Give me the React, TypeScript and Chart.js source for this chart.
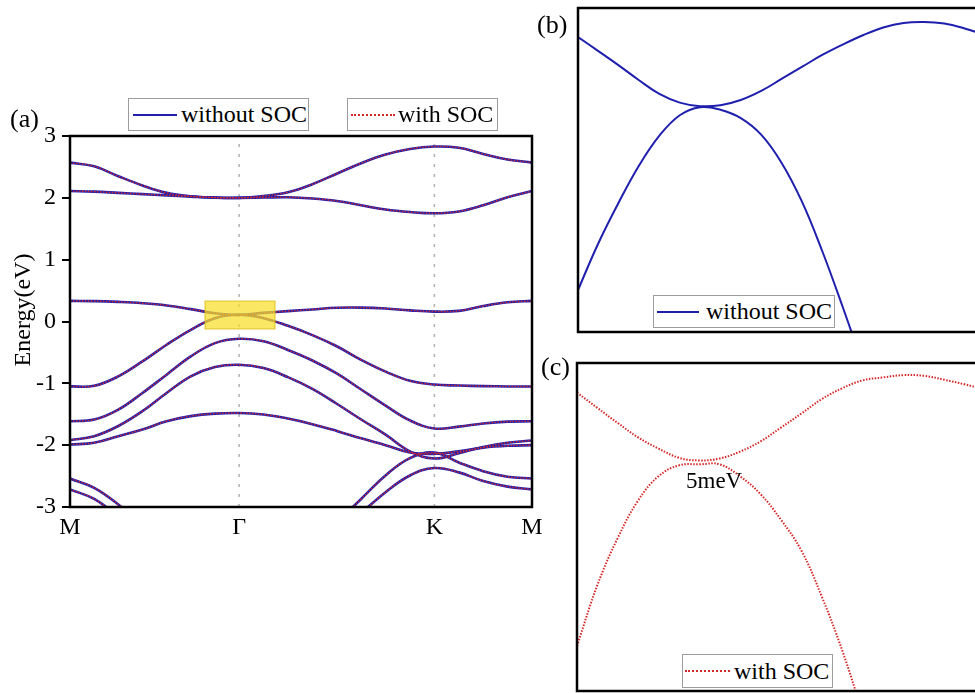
import React, { useEffect, useRef } from "react";
import { Chart, registerables } from "chart.js";

Chart.register(...registerables);

const FONT = "'Liberation Serif', 'Times New Roman', 'DejaVu Serif', serif";
const BLUE = "#1f1fae";
const RED = "#d62828";

// ---------- Panel (a): band structure along M–Γ–K–M (k in units of 2π/a) ----------
const kPath = [
  0, 0.0825, 0.165, 0.2474, 0.3299, 0.4124, 0.4949, 0.5774, 0.6607, 0.744,
  0.8274, 0.9107, 0.994, 1.0774, 1.1607, 1.244, 1.3274, 1.4107, 1.494, 1.5774,
];
const kTickValues = [0, 0.5774, 1.244, 1.5774];
const kTickLabels = ["M", "Γ", "K", "M"];
const highSymK = [0.5774, 1.244];
const energyTickLabels = ["-3", "-2", "-1", "0", "1", "2", "3"];

const band1 = [2.57, 2.51, 2.35, 2.2, 2.08, 2.025, 2.005, 2.0, 2.03, 2.09, 2.22, 2.39, 2.56, 2.7, 2.79, 2.83, 2.81, 2.71, 2.62, 2.57];
const band2 = [2.11, 2.1, 2.08, 2.06, 2.04, 2.02, 2.003, 2.0, 2.005, 2.01, 1.99, 1.95, 1.88, 1.81, 1.77, 1.75, 1.78, 1.88, 2.01, 2.11];
const band3 = [0.333, 0.33, 0.317, 0.296, 0.26, 0.2, 0.134, 0.108, 0.14, 0.168, 0.195, 0.222, 0.225, 0.21, 0.18, 0.16, 0.172, 0.25, 0.31, 0.333];
const band4 = [-1.05, -1.04, -0.887, -0.645, -0.376, -0.134, 0.054, 0.108, 0.054, -0.07, -0.22, -0.4, -0.62, -0.81, -0.96, -1.02, -1.035, -1.045, -1.05, -1.05];
const band5 = [-1.613, -1.586, -1.425, -1.156, -0.86, -0.565, -0.35, -0.28, -0.32, -0.46, -0.63, -0.84, -1.1, -1.36, -1.6, -1.73, -1.7, -1.65, -1.62, -1.613];
const band6 = [-1.92, -1.855, -1.69, -1.45, -1.156, -0.887, -0.737, -0.7, -0.753, -0.9, -1.09, -1.33, -1.585, -1.83, -2.1, -2.215, -2.13, -2.03, -1.96, -1.925];
const band7 = [-1.99, -1.96, -1.855, -1.747, -1.613, -1.53, -1.49, -1.48, -1.505, -1.57, -1.66, -1.77, -1.89, -2.0, -2.12, -2.14, -2.1, -2.04, -2.01, -2.0];
const band8 = [-2.54, -2.69, -2.96, -3.3, null, null, null, null, null, null, null, -3.25, -2.87, -2.49, -2.21, -2.12, -2.28, -2.42, -2.51, -2.54];
const band9 = [-2.715, -2.87, -3.15, null, null, null, null, null, null, null, null, null, -3.1, -2.76, -2.49, -2.37, -2.44, -2.58, -2.67, -2.715];
const bands = [band1, band2, band3, band4, band5, band6, band7, band8, band9];

const highlightK = [0.461, 0.7];
const highlightE = [-0.12, 0.33];

// ---------- Panels (b), (c): zoom near Γ (arbitrary units, 0–100) ----------
const zoomK = [0, 5, 10, 15, 20, 25, 30, 35, 40, 45, 50, 55, 60, 65, 70, 75, 80, 85, 90, 95, 100];
const bUpper = [91.05, 86.7, 82.3, 77.7, 73.5, 70.8, 69.7, 70.0, 71.6, 74.4, 78.1, 81.8, 85.5, 88.7, 91.6, 94.0, 95.4, 95.7, 95.2, 93.7, 91.7];
const bLower = [12.96, 27.4, 39.97, 51.4, 60.6, 66.9, 69.4, 68.6, 66.0, 60.9, 52.25, 40.3, 25.0, 7.87, -10.2, null, null, null, null, null, null];
const cUpper = [91.0, 86.3, 81.7, 77.3, 73.9, 71.1, 70.3, 70.9, 73.0, 76.1, 80.3, 84.6, 89.0, 92.3, 94.7, 95.6, 96.3, 96.1, 94.9, 93.5, 91.9];
const cLower = [13.7, 32.3, 46.7, 58.1, 65.5, 68.8, 69.1, 69.1, 65.4, 60.0, 52.2, 42.8, 28.8, 12.4, -6.7, null, null, null, null, null, null];

const toPoints = (xs: number[], ys: (number | null)[]) =>
  xs.map((x, i) => ({ x, y: ys[i] }));

const framePlugin = {
  id: "frame",
  afterDraw(chart: any) {
    const { ctx, chartArea } = chart;
    const { left, top, right, bottom } = chartArea;
    ctx.save();
    ctx.strokeStyle = "#000";
    ctx.lineWidth = 2.5;
    ctx.strokeRect(left, top, right - left, bottom - top);
    ctx.restore();
  },
};

const highlightPlugin = {
  id: "highlight",
  afterDatasetsDraw(chart: any) {
    const { ctx, scales } = chart;
    const x0 = scales.x.getPixelForValue(highlightK[0]);
    const x1 = scales.x.getPixelForValue(highlightK[1]);
    const y0 = scales.y.getPixelForValue(highlightE[1]);
    const y1 = scales.y.getPixelForValue(highlightE[0]);
    ctx.save();
    ctx.fillStyle = "rgba(248, 222, 40, 0.72)";
    ctx.fillRect(x0, y0, x1 - x0, y1 - y0);
    ctx.strokeStyle = "rgba(222, 190, 20, 0.9)";
    ctx.lineWidth = 1;
    ctx.strokeRect(x0, y0, x1 - x0, y1 - y0);
    ctx.restore();
  },
};

const curve = { tension: 0.4, pointRadius: 0, spanGaps: false };

function makePanelA(canvas: HTMLCanvasElement) {
  const datasets: any[] = [];
  bands.forEach((b, i) => {
    datasets.push({
      label: "with SOC " + (i + 1),
      data: toPoints(kPath, b),
      borderColor: RED,
      borderWidth: 1.4,
      borderDash: [1.5, 1.5],
      order: 0,
      ...curve,
    });
    datasets.push({
      label: "without SOC " + (i + 1),
      data: toPoints(kPath, b),
      borderColor: BLUE,
      borderWidth: 2.6,
      order: 1,
      ...curve,
    });
  });
  highSymK.forEach((k) => {
    datasets.push({
      label: "sym",
      data: [
        { x: k, y: -3 },
        { x: k, y: 3 },
      ],
      borderColor: "#b4b4b4",
      borderWidth: 1.6,
      borderDash: [3, 7],
      pointRadius: 0,
      order: 2,
    });
  });

  return new Chart(canvas, {
    type: "line",
    data: { datasets },
    options: {
      responsive: false,
      animation: false,
      events: [],
      layout: { padding: { left: 0, top: 46, right: 28, bottom: 0 } },
      plugins: { legend: { display: false }, tooltip: { enabled: false } },
      scales: {
        x: {
          type: "linear",
          min: 0,
          max: 1.5774,
          afterBuildTicks: (s: any) => {
            s.ticks = kTickValues.map((v) => ({ value: v }));
          },
          afterFit: (s: any) => {
            s.height = 43;
          },
          ticks: {
            autoSkip: false,
            maxRotation: 0,
            padding: 6,
            color: "#000",
            font: { family: FONT, size: 24 },
            callback: (_v: any, i: number) => kTickLabels[i],
          },
          grid: { display: false, drawTicks: false },
          border: { display: false },
        },
        y: {
          type: "linear",
          min: -3,
          max: 3,
          afterFit: (s: any) => {
            s.width = 70;
          },
          ticks: {
            stepSize: 0.5,
            padding: 6,
            color: "#000",
            font: { family: FONT, size: 24 },
            callback: (v: any) => {
              const n = Number(v);
              return Number.isInteger(n) ? energyTickLabels[n + 3] : "";
            },
          },
          grid: {
            drawOnChartArea: false,
            drawTicks: true,
            tickLength: 8,
            lineWidth: 2,
            color: "#000",
          },
          border: { display: false },
        },
      },
    },
    plugins: [highlightPlugin, framePlugin],
  } as any);
}

function makeZoomPanel(
  canvas: HTMLCanvasElement,
  upper: (number | null)[],
  lower: (number | null)[],
  soc: boolean,
  padding: any
) {
  const style = soc
    ? { borderColor: RED, borderWidth: 2, borderDash: [1.5, 1.5] }
    : { borderColor: BLUE, borderWidth: 2 };
  return new Chart(canvas, {
    type: "line",
    data: {
      datasets: [
        { label: "upper", data: toPoints(zoomK, upper), ...curve, ...style },
        { label: "lower", data: toPoints(zoomK, lower), ...curve, ...style },
      ],
    },
    options: {
      responsive: false,
      animation: false,
      events: [],
      layout: { padding },
      plugins: { legend: { display: false }, tooltip: { enabled: false } },
      scales: {
        x: { type: "linear", min: 0, max: 100, display: false },
        y: { type: "linear", min: 0, max: 100, display: false },
      },
    },
    plugins: [framePlugin],
  } as any);
}

type LegendProps = {
  left: number;
  top: number;
  width: number;
  height: number;
  sampleLeft: number;
  sampleWidth: number;
  textLeft: number;
  soc: boolean;
  text: string;
};

function LegendBox(p: LegendProps) {
  return (
    <div
      style={{
        position: "absolute",
        left: p.left,
        top: p.top,
        width: p.width,
        height: p.height,
        border: "1.5px solid #9c9c9c",
        background: "#fff",
        boxSizing: "border-box",
      }}
    >
      <div
        style={{
          position: "absolute",
          left: p.sampleLeft,
          top: p.height / 2 - 2,
          width: p.sampleWidth,
          borderTop: p.soc ? `2px dotted ${RED}` : `2px solid ${BLUE}`,
        }}
      />
      <div
        style={{
          position: "absolute",
          left: p.textLeft,
          top: -1.5,
          height: p.height,
          lineHeight: p.height + "px",
          fontSize: 24,
          whiteSpace: "nowrap",
          color: "#000",
        }}
      >
        {p.text}
      </div>
    </div>
  );
}

const textStyle = (left: number, top: number, size: number): React.CSSProperties => ({
  position: "absolute",
  left,
  top,
  fontSize: size,
  lineHeight: 1,
  whiteSpace: "nowrap",
  color: "#000",
});

export default function App() {
  const refA = useRef<HTMLCanvasElement>(null);
  const refB = useRef<HTMLCanvasElement>(null);
  const refC = useRef<HTMLCanvasElement>(null);

  useEffect(() => {
    const charts = [
      makePanelA(refA.current!),
      makeZoomPanel(refB.current!, bUpper, bLower, false, { left: 48, top: 8, right: 5, bottom: 8 }),
      makeZoomPanel(refC.current!, cUpper, cLower, true, { left: 47, top: 8, right: 5, bottom: 2 }),
    ];
    return () => charts.forEach((c) => c.destroy());
  }, []);

  return (
    <div
      style={{
        position: "fixed",
        left: 0,
        top: 0,
        width: 975,
        height: 693,
        overflow: "hidden",
        background: "#fff",
        fontFamily: FONT,
      }}
    >
      <canvas ref={refA} width={560} height={460} style={{ position: "absolute", left: 0, top: 90, width: 560, height: 460 }} />
      <canvas ref={refB} width={460} height={340} style={{ position: "absolute", left: 530, top: 0, width: 460, height: 340 }} />
      <canvas ref={refC} width={460} height={338} style={{ position: "absolute", left: 530, top: 355, width: 460, height: 338 }} />

      <div
        style={{
          position: "absolute",
          left: 22,
          top: 310,
          transform: "translate(-50%, -50%) rotate(-90deg)",
          fontSize: 24,
          lineHeight: 1,
          whiteSpace: "nowrap",
          color: "#000",
        }}
      >
        Energy(eV)
      </div>
      <div style={textStyle(10, 106, 26)}>(a)</div>
      <div style={textStyle(537, 12, 26)}>(b)</div>
      <div style={textStyle(541, 354, 26)}>(c)</div>
      <div style={textStyle(686, 469, 23)}>5meV</div>

      <LegendBox left={128} top={98} width={181} height={33} sampleLeft={4} sampleWidth={44} textLeft={52} soc={false} text="without SOC" />
      <LegendBox left={347} top={98} width={151} height={33} sampleLeft={3} sampleWidth={44} textLeft={50} soc={true} text="with SOC" />
      <LegendBox left={653} top={295} width={182} height={33} sampleLeft={3} sampleWidth={42} textLeft={52} soc={false} text="without SOC" />
      <LegendBox left={682} top={654} width={151} height={34} sampleLeft={2} sampleWidth={45} textLeft={51} soc={true} text="with SOC" />
    </div>
  );
}
